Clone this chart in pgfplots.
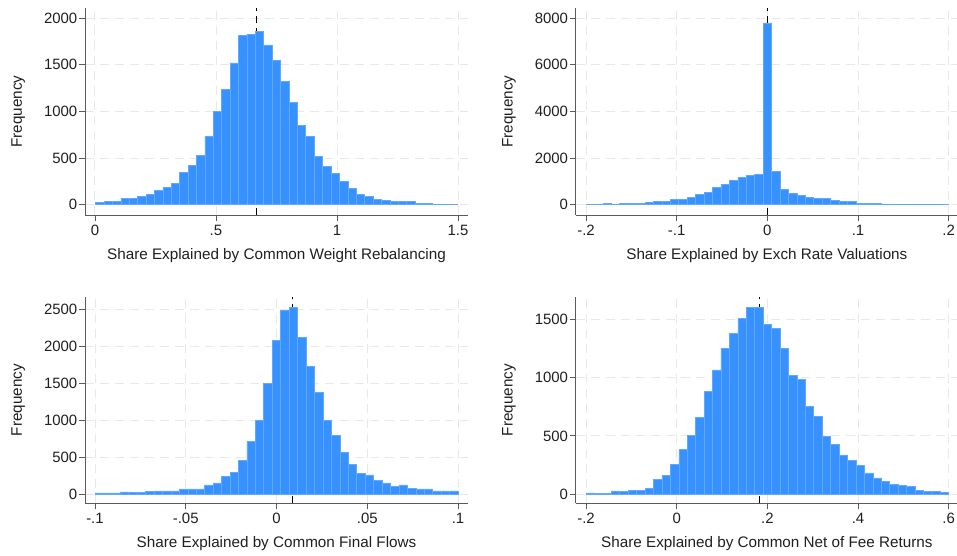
\documentclass[border=0pt]{standalone}
\usepackage{fontspec}
\setmainfont{Liberation Sans}
\usepackage{pgfplots}
\usepackage{pgfplotstable}
\pgfplotsset{compat=1.18}

\definecolor{barfill}{RGB}{55,146,255}
\definecolor{baredge}{RGB}{95,170,255}
\definecolor{axgray}{RGB}{90,90,90}
\definecolor{gridgray}{RGB}{232,232,232}

% histogram counts: left bin edge, count (last row closes the interval)
\pgfplotstableread{
x y
0.0030 25
0.0377 32
0.0724 36
0.1072 68
0.1419 68
0.1766 89
0.2113 114
0.2460 154
0.2808 186
0.3155 232
0.3502 343
0.3849 425
0.4196 532
0.4544 736
0.4891 1003
0.5238 1236
0.5585 1518
0.5932 1814
0.6280 1828
0.6627 1857
0.6974 1711
0.7321 1546
0.7668 1325
0.8016 1100
0.8363 850
0.8710 736
0.9057 521
0.9404 414
0.9752 336
1.0099 250
1.0446 175
1.0793 114
1.1140 89
1.1488 61
1.1835 46
1.2182 36
1.2529 36
1.2876 36
1.3224 18
1.3571 18
1.3918 7
1.4265 7
1.4612 7
1.4960 7
}\rebal

\pgfplotstableread{
x y
-0.2000 29
-0.1907 15
-0.1814 43
-0.1721 29
-0.1628 71
-0.1535 71
-0.1442 71
-0.1349 114
-0.1256 157
-0.1163 157
-0.1070 243
-0.0977 243
-0.0884 329
-0.0791 457
-0.0698 543
-0.0605 757
-0.0512 886
-0.0419 1057
-0.0326 1186
-0.0233 1272
-0.0140 1315
-0.0047 7786
0.0047 1443
0.0140 671
0.0233 500
0.0326 414
0.0419 329
0.0512 286
0.0605 286
0.0698 200
0.0791 157
0.0884 157
0.0977 71
0.1070 71
0.1163 71
0.1256 29
0.1349 29
0.1442 29
0.1535 29
0.1628 29
0.1721 29
0.1814 29
0.1907 29
0.2000 29
}\exch

\pgfplotstableread{
x y
-0.10000 14
-0.09535 14
-0.09070 14
-0.08605 27
-0.08140 23
-0.07675 23
-0.07210 32
-0.06745 41
-0.06280 41
-0.05815 41
-0.05350 68
-0.04885 68
-0.04420 68
-0.03955 122
-0.03490 149
-0.03025 243
-0.02560 297
-0.02095 460
-0.01630 716
-0.01165 1000
-0.00700 1496
-0.00235 2081
0.00235 2487
0.00700 2527
0.01165 2122
0.01630 1730
0.02095 1370
0.02560 1000
0.03025 797
0.03490 568
0.03955 405
0.04420 284
0.04885 257
0.05350 189
0.05815 149
0.06280 104
0.06745 122
0.07210 81
0.07675 68
0.08140 68
0.08605 41
0.09070 41
0.09535 41
0.10000 41
}\flows

\pgfplotstableread{
x y
-0.2000 9
-0.1814 6
-0.1628 6
-0.1442 26
-0.1256 23
-0.1070 32
-0.0884 32
-0.0698 49
-0.0512 129
-0.0326 158
-0.0140 252
0.0047 384
0.0233 502
0.0419 660
0.0605 883
0.0791 1067
0.0977 1253
0.1163 1380
0.1349 1509
0.1535 1606
0.1721 1606
0.1907 1457
0.2093 1425
0.2279 1253
0.2465 1021
0.2651 989
0.2837 751
0.3023 668
0.3209 493
0.3395 427
0.3581 336
0.3767 290
0.3953 247
0.4140 181
0.4326 138
0.4512 109
0.4698 86
0.4884 75
0.5070 66
0.5256 32
0.5442 23
0.5628 23
0.5814 14
0.6000 14
}\returns

\pgfplotsset{
  stataax/.style={
    scale only axis,
    anchor=south west,
    axis lines*=left,
    axis line style={draw=axgray, line width=0.8bp},
    tick align=outside,
    major tick length=6bp,
    tick style={draw=axgray, line width=0.8bp},
    grid=major,
    major grid style={draw=gridgray, line width=0.9bp, dash pattern=on 9bp off 6bp},
    ticklabel style={font=\fontsize{15}{18}\selectfont, text=black!88},
    /pgf/number format/assume math mode=true,
    yticklabel style={inner sep=1.5bp},
    xticklabel style={inner sep=4bp},
    label style={font=\fontsize{15.3}{18}\selectfont, text=black!88},
    ylabel={Frequency},
    ylabel shift=14bp,
    xlabel shift=5bp,
  },
  hist/.style={ybar interval, fill=barfill, draw=baredge, line width=0.6bp},
  mline/.style={black, line width=0.9bp, dash pattern=on 7bp off 5bp, forget plot},
}

\begin{document}
\begin{tikzpicture}
\path[use as bounding box] (0,0) rectangle (957bp,556bp);

\begin{axis}[stataax, at={(85bp,341bp)}, width=383bp, height=207bp,
  xmin=-0.041, xmax=1.541, ymin=-110, ymax=2107,
  xtick={0,0.5,1,1.5}, xticklabels={0,.5,1,1.5},
  ytick={0,500,1000,1500,2000}, yticklabels={0,500,1000,1500,2000},
  xlabel={Share Explained by Common Weight Rebalancing}]
\addplot[mline] coordinates {(0.669,-110) (0.669,2107)};
\addplot[hist] table[x=x, y=y] {\rebal};
\end{axis}

\begin{axis}[stataax, at={(575.7bp,341bp)}, width=382.3bp, height=207bp,
  xmin=-0.2114, xmax=0.2103, ymin=-441, ymax=8429,
  xtick={-0.2,-0.1,0,0.1,0.2}, xticklabels={-.2,-.1,0,.1,.2},
  ytick={0,2000,4000,6000,8000}, yticklabels={0,2000,4000,6000,8000},
  xlabel={Share Explained by Exch Rate Valuations}]
\addplot[mline] coordinates {(0,-441) (0,8429)};
\addplot[hist] table[x=x, y=y] {\exch};
\end{axis}

\begin{axis}[stataax, at={(85bp,52.7bp)}, width=383bp, height=206.3bp,
  xmin=-0.1055, xmax=0.1055, ymin=-126, ymax=2666,
  xtick={-0.1,-0.05,0,0.05,0.1}, xticklabels={-.1,-.05,0,.05,.1},
  ytick={0,500,1000,1500,2000,2500}, yticklabels={0,500,1000,1500,2000,2500},
  xlabel={Share Explained by Common Final Flows}]
\addplot[mline] coordinates {(0.009,-126) (0.009,2666)};
\addplot[hist] table[x=x, y=y] {\flows};
\end{axis}

\begin{axis}[stataax, at={(575.7bp,52.7bp)}, width=382.3bp, height=206.3bp,
  xmin=-0.2227, xmax=0.6205, ymin=-80, ymax=1695,
  xtick={-0.2,0,0.2,0.4,0.6}, xticklabels={-.2,0,.2,.4,.6},
  ytick={0,500,1000,1500}, yticklabels={0,500,1000,1500},
  xlabel={Share Explained by Common Net of Fee Returns}]
\addplot[mline] coordinates {(0.182,-80) (0.182,1695)};
\addplot[hist] table[x=x, y=y] {\returns};
\end{axis}
\end{tikzpicture}
\end{document}
